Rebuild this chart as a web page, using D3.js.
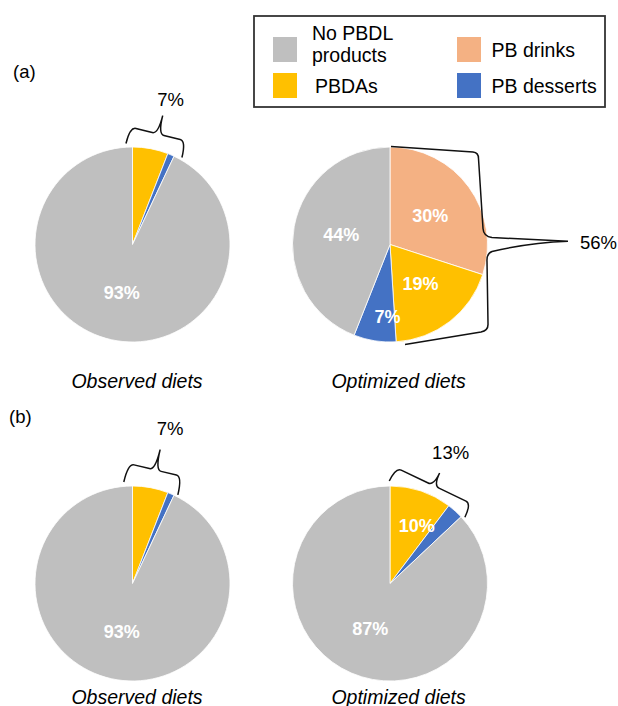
<!DOCTYPE html>
<html><head><meta charset="utf-8">
<script src="https://cdn.jsdelivr.net/npm/d3@7"></script>
<style>
html,body{margin:0;padding:0;background:#fff}
svg{display:block}
text{font-family:"Liberation Sans",Arial,Helvetica,sans-serif}
</style>
</head><body>
<svg id="c" width="618" height="706"></svg>
<script>
// ---------------- DATA ----------------
const categories = ["No PBDL products", "PBDAs", "PB drinks", "PB desserts"];
const catColors  = ["#BFBFBF", "#FFC000", "#F4B183", "#4472C4"];
// clockwise order from 12 o'clock
const sliceOrder = ["PB drinks", "PBDAs", "PB desserts", "No PBDL products"];
const aObserved        = [0, 5.9, 1.1, 93];
const aOptimized       = [30, 19, 7, 44];
const bObserved        = [0, 5.9, 1.1, 93];
const bOptimized       = [0, 10.3, 2.7, 87];
const aObservedLabels  = ["", "", "", "93%"];
const aOptimizedLabels = ["30%", "19%", "7%", "44%"];
const bObservedLabels  = ["", "", "", "93%"];
const bOptimizedLabels = ["", "10%", "", "87%"];
const panelLabels = ["(a)", "(b)"];
const dietLabels  = ["Observed diets", "Optimized diets"];
const groupLabels = ["7%", "56%", "7%", "13%"];

// ---------------- LAYOUT ----------------
const svg = d3.select("#c");
const R = 97.5;
const xPos = d3.scaleOrdinal([0, 1], [132.5, 390]);
const yPos = d3.scaleOrdinal([0, 1], [244.5, 583.5]);
const color = d3.scaleOrdinal(categories, catColors);
const FONT = '"Liberation Sans",Arial,Helvetica,sans-serif';

const pies = [
  {panel: 0, col: 0, values: aObserved,  labels: aObservedLabels},
  {panel: 0, col: 1, values: aOptimized, labels: aOptimizedLabels},
  {panel: 1, col: 0, values: bObserved,  labels: bObservedLabels},
  {panel: 1, col: 1, values: bOptimized, labels: bOptimizedLabels}
];
const labelTweak = {"1|PB desserts": {f: 0.74, da: -7}, "3|PBDAs": {f: 0.65, da: 6.5}};

const pieGen = d3.pie().sort(null).value(d => d.v);
const arcGen = d3.arc().innerRadius(0).outerRadius(R);
const rad = Math.PI / 180;

pies.forEach((p, pi) => {
  const cx = xPos(p.col), cy = yPos(p.panel);
  const data = sliceOrder.map((c, i) => ({cat: c, v: p.values[i], label: p.labels[i]})).filter(d => d.v > 0);
  const arcs = pieGen(data);
  const g = svg.append("g").attr("transform", `translate(${cx},${cy})`);
  g.selectAll("path.slice").data(arcs).join("path")
    .attr("class", "slice")
    .attr("d", arcGen)
    .attr("fill", d => color(d.data.cat))
    .attr("stroke", "#fff").attr("stroke-width", 0.8);
  g.selectAll("text.val").data(arcs.filter(d => d.data.label)).join("text")
    .attr("class", "val")
    .each(function (d) {
      const t = labelTweak[pi + "|" + d.data.cat] || {f: 0.51, da: 0};
      const m = (d.startAngle + d.endAngle) / 2 + t.da * rad;
      d3.select(this).attr("x", Math.sin(m) * R * t.f).attr("y", -Math.cos(m) * R * t.f);
    })
    .attr("dy", "0.35em")
    .attr("text-anchor", "middle")
    .attr("font-size", 18).attr("font-weight", "bold")
    .attr("fill", "#fff")
    .text(d => d.data.label);
});

// diet labels
const dietDx = [4.5, 8.6];
const dietY = [388, 704];
[0, 1].forEach(pn => {
  [0, 1].forEach(c => {
    svg.append("text")
      .attr("x", xPos(c) + dietDx[c]).attr("y", dietY[pn])
      .attr("text-anchor", "middle")
      .attr("font-size", 19.5).attr("font-style", "italic")
      .attr("fill", "#000")
      .text(dietLabels[c]);
  });
});

// panel labels
const panelPos = [[13, 78], [9, 423]];
panelLabels.forEach((t, i) => {
  svg.append("text").attr("x", panelPos[i][0]).attr("y", panelPos[i][1])
    .attr("font-size", 18.5).attr("fill", "#000").text(t);
});

// ---------------- BRACES ----------------
function polar(pi, angDeg, rr) {
  const p = pies[pi];
  const cx = xPos(p.col), cy = yPos(p.panel);
  return [cx + Math.sin(angDeg * rad) * rr, cy - Math.cos(angDeg * rad) * rr];
}
function groupSpan(pi) {
  // angular span (deg) of non-"No PBDL" slices
  const p = pies[pi];
  let s = 0;
  sliceOrder.forEach((c, i) => { if (c !== "No PBDL products") s += p.values[i]; });
  const tot = d3.sum(p.values);
  return s / tot * 360;
}
const braces = [
  {pie: 0, a0: -3.7, a1: 4.4, r0: 3.7, r1: 2.5, arm: 17, tip: 19, lab: 0, ldx: 8, ldy: -16},
  {pie: 2, a0: -4.9, a1: 1.9, r0: 4.4, r1: 2, arm: 19, tip: 21, lab: 2, ldx: 10, ldy: -21},
  {pie: 3, a0: -0.4, a1: 1.7, r0: 5, r1: 2.5, arm: 15, tip: 14, lab: 3, ldx: 11, ldy: -20}
];
braces.forEach(b => {
  const span = groupSpan(b.pie);
  const p1 = polar(b.pie, b.a0, R + b.r0);
  const p2 = polar(b.pie, span + b.a1, R + b.r1);
  const L = Math.hypot(p2[0] - p1[0], p2[1] - p1[1]);
  const u = [(p2[0] - p1[0]) / L, (p2[1] - p1[1]) / L];
  const n = [u[1], -u[0]];
  const P = (s, h) => [p1[0] + u[0] * s + n[0] * h, p1[1] + u[1] * s + n[1] * h];
  const c = 6, a = b.arm, t = b.tip, m = L / 2;
  const path = d3.path();
  path.moveTo(...P(0, 0));
  path.quadraticCurveTo(...P(0, a), ...P(c, a));
  path.lineTo(...P(m - c, a));
  path.quadraticCurveTo(...P(m, a), ...P(m, a + t));
  path.quadraticCurveTo(...P(m, a), ...P(m + c, a));
  path.lineTo(...P(L - c, a));
  path.quadraticCurveTo(...P(L, a), ...P(L, 0));
  svg.append("path").attr("d", path.toString())
    .attr("fill", "none").attr("stroke", "#111").attr("stroke-width", 1.5);
  const tp = P(m, a + t);
  svg.append("text").attr("x", tp[0] + b.ldx).attr("y", tp[1] + b.ldy)
    .attr("dy", "0.35em").attr("text-anchor", "middle")
    .attr("font-size", 18.5).attr("fill", "#000").text(groupLabels[b.lab]);
});

// big brace on optimized (a)
(function () {
  const p = pies[1];
  const cx = xPos(p.col), cy = yPos(p.panel);
  const k = R / 97.5;
  const Q = (dx, dy) => [cx + dx * k, cy + dy * k];
  const path = d3.path();
  path.moveTo(...Q(1, -98));
  path.lineTo(...Q(83, -92.5));
  path.quadraticCurveTo(...Q(88.5, -92), ...Q(88.5, -86));
  path.lineTo(...Q(93, -16));
  path.quadraticCurveTo(...Q(93.5, -8), ...Q(102, -7));
  path.quadraticCurveTo(...Q(150, -4.5), ...Q(178, -3.3));
  path.quadraticCurveTo(...Q(140, -2), ...Q(102, 7));
  path.quadraticCurveTo(...Q(96.5, 9), ...Q(97, 17));
  path.lineTo(...Q(98, 79));
  path.quadraticCurveTo(...Q(98.5, 86), ...Q(91, 87.5));
  path.lineTo(...Q(15, 100));
  svg.append("path").attr("d", path.toString())
    .attr("fill", "none").attr("stroke", "#111").attr("stroke-width", 1.5);
  svg.append("text").attr("x", cx + 190 * k).attr("y", cy - 2)
    .attr("dy", "0.35em").attr("font-size", 18.5).attr("fill", "#000").text(groupLabels[1]);
})();

// ---------------- LEGEND ----------------
const legend = svg.append("g");
legend.append("rect").attr("x", 254).attr("y", 16).attr("width", 351).attr("height", 91)
  .attr("fill", "#fff").attr("stroke", "#333").attr("stroke-width", 1.8);
const legItems = [
  {cat: "No PBDL products", lines: ["No PBDL", "products"], col: 0, row: 0},
  {cat: "PBDAs", lines: ["PBDAs"], col: 0, row: 1},
  {cat: "PB drinks", lines: ["PB drinks"], col: 1, row: 0},
  {cat: "PB desserts", lines: ["PB desserts"], col: 1, row: 1}
];
const swX = [273, 457], swY = [37, 73];
const txX = [312, 491.5];
legItems.forEach(it => {
  const sx = swX[it.col], sy = swY[it.row];
  legend.append("rect").attr("x", sx).attr("y", sy).attr("width", 24).attr("height", 25)
    .attr("fill", color(it.cat));
  const cyy = sy + 12.5;
  const tx = txX[it.col] + (it.cat === "PBDAs" ? 3 : 0);
  if (it.lines.length === 2) {
    legend.append("text").attr("x", tx).attr("y", cyy - 9.5).attr("font-size", 19.5).attr("fill", "#000").text(it.lines[0]);
    legend.append("text").attr("x", tx).attr("y", cyy + 12.5).attr("font-size", 19.5).attr("fill", "#000").text(it.lines[1]);
  } else {
    legend.append("text").attr("x", tx).attr("y", cyy + 7).attr("font-size", 19.5).attr("fill", "#000").text(it.lines[0]);
  }
});
</script>
</body></html>
